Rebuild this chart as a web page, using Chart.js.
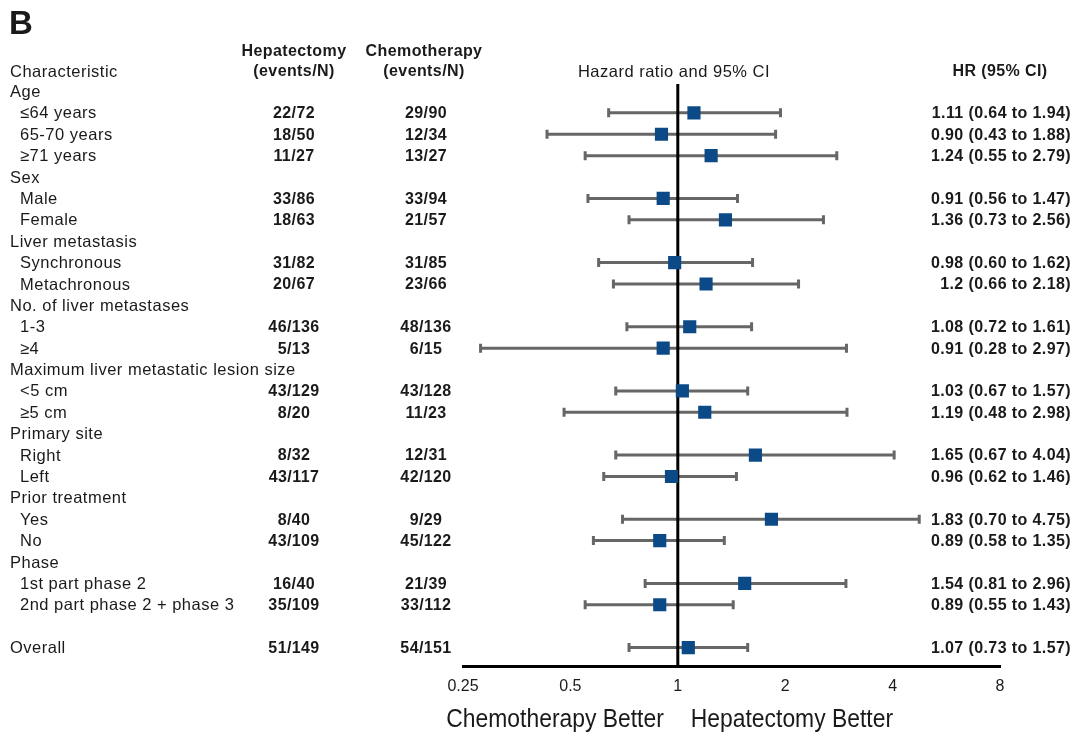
<!DOCTYPE html>
<html><head><meta charset="utf-8">
<script src="https://cdn.jsdelivr.net/npm/chart.js@4.4.1/dist/chart.umd.min.js"></script>
<style>html,body{margin:0;padding:0;background:#fff}</style>
</head><body>
<canvas id="c" width="1080" height="750"></canvas>
<script>
// ---- data ----
const rowLabels = ['Age','≤64 years','65-70 years','≥71 years','Sex','Male','Female','Liver metastasis','Synchronous','Metachronous','No. of liver metastases','1-3','≥4','Maximum liver metastatic lesion size','<5 cm','≥5 cm','Primary site','Right','Left','Prior treatment','Yes','No','Phase','1st part phase 2','2nd part phase 2 + phase 3','','Overall'];
const rowIndent = [0,1,1,1,0,1,1,0,1,1,0,1,1,0,1,1,0,1,1,0,1,1,0,1,1,0,0];
const hepatectomy = ['','22/72','18/50','11/27','','33/86','18/63','','31/82','20/67','','46/136','5/13','','43/129','8/20','','8/32','43/117','','8/40','43/109','','16/40','35/109','','51/149'];
const chemotherapy = ['','29/90','12/34','13/27','','33/94','21/57','','31/85','23/66','','48/136','6/15','','43/128','11/23','','12/31','42/120','','9/29','45/122','','21/39','33/112','','54/151'];
const hr =    [null,1.11,0.90,1.24,null,0.91,1.36,null,0.98,1.2, null,1.08,0.91,null,1.03,1.19,null,1.65,0.96,null,1.83,0.89,null,1.54,0.89,null,1.07];
const ciLow = [null,0.64,0.43,0.55,null,0.56,0.73,null,0.60,0.66,null,0.72,0.28,null,0.67,0.48,null,0.67,0.62,null,0.70,0.58,null,0.81,0.55,null,0.73];
const ciHigh= [null,1.94,1.88,2.79,null,1.47,2.56,null,1.62,2.18,null,1.61,2.97,null,1.57,2.98,null,4.04,1.46,null,4.75,1.35,null,2.96,1.43,null,1.57];
const hrText = ['','1.11 (0.64 to 1.94)','0.90 (0.43 to 1.88)','1.24 (0.55 to 2.79)','','0.91 (0.56 to 1.47)','1.36 (0.73 to 2.56)','','0.98 (0.60 to 1.62)','1.2 (0.66 to 2.18)','','1.08 (0.72 to 1.61)','0.91 (0.28 to 2.97)','','1.03 (0.67 to 1.57)','1.19 (0.48 to 2.98)','','1.65 (0.67 to 4.04)','0.96 (0.62 to 1.46)','','1.83 (0.70 to 4.75)','0.89 (0.58 to 1.35)','','1.54 (0.81 to 2.96)','0.89 (0.55 to 1.43)','','1.07 (0.73 to 1.57)'];
const xTicks = [0.25,0.5,1,2,4,8];

// ---- build datasets ----
const GRAY = '#666666', NAVY = '#0b4a86';
const datasets = [];
hr.forEach((v,i)=>{
  if (v === null) return;
  datasets.push({
    type:'line', order:2,
    data:[{x:ciLow[i],y:i},{x:ciHigh[i],y:i}],
    borderColor:GRAY, borderWidth:3,
    pointStyle:'line', pointRotation:90, pointRadius:4.5,
    pointBorderColor:GRAY, pointBorderWidth:3, pointBackgroundColor:GRAY,
    pointHoverRadius:4.5
  });
});
const markerData = [];
hr.forEach((v,i)=>{ if (v !== null) markerData.push({x:v,y:i}); });
const markerIndex = datasets.length;
datasets.push({
  type:'scatter', order:1, data:markerData,
  pointStyle:'rect', pointRadius:9.3, pointHoverRadius:9.3,
  backgroundColor:NAVY, borderColor:NAVY, borderWidth:0
});

const FONT = '"Liberation Sans", Arial, sans-serif';
const INK = '#1a1a1a';

const zeroLine = {
  id:'zeroLine',
  beforeDatasetDraw(chart,args){
    if (args.index !== markerIndex) return;
    const ctx = chart.ctx, xs = chart.scales.x, a = chart.chartArea;
    const px = xs.getPixelForValue(1);
    ctx.save();
    ctx.strokeStyle = '#000'; ctx.lineWidth = 3;
    ctx.beginPath(); ctx.moveTo(px, a.top); ctx.lineTo(px, a.bottom); ctx.stroke();
    ctx.restore();
  }
};

function spacing(ctx, v){ try { ctx.letterSpacing = v; } catch(e){} }

const tableText = {
  id:'tableText',
  afterDraw(chart){
    const ctx = chart.ctx, ys = chart.scales.y, xs = chart.scales.x;
    ctx.save();
    ctx.fillStyle = INK;
    ctx.textBaseline = 'middle';
    spacing(ctx,'0px');
    ctx.textAlign = 'left';
    ctx.font = 'bold 33px ' + FONT;
    ctx.fillText('B', 9, 25);

    // headers
    spacing(ctx,'0.4px');
    ctx.font = 'bold 16px ' + FONT;
    ctx.textAlign = 'center';
    ctx.fillText('Hepatectomy', 294, 52);
    ctx.fillText('(events/N)', 294, 72);
    ctx.fillText('Chemotherapy', 424, 52);
    ctx.fillText('(events/N)', 424, 72);
    ctx.fillText('HR (95% CI)', 1000, 72);
    spacing(ctx,'0.5px');
    ctx.font = '16.5px ' + FONT;
    ctx.fillText('Hazard ratio and 95% CI', 674, 72);
    ctx.textAlign = 'left';
    ctx.fillText('Characteristic', 10, 72);

    rowLabels.forEach((lab,i)=>{
      const y = ys.getPixelForValue(i) + 1;
      spacing(ctx,'0.5px');
      ctx.font = '16.5px ' + FONT;
      ctx.textAlign = 'left';
      if (lab) ctx.fillText(lab, rowIndent[i] ? 20 : 10, y);
      spacing(ctx,'0.4px');
      ctx.font = 'bold 16px ' + FONT;
      ctx.textAlign = 'center';
      if (hepatectomy[i]) ctx.fillText(hepatectomy[i], 294, y);
      if (chemotherapy[i]) ctx.fillText(chemotherapy[i], 426, y);
      ctx.textAlign = 'right';
      if (hrText[i]) ctx.fillText(hrText[i], 1071, y);
    });

    // axis direction labels (condensed)
    spacing(ctx,'0px');
    ctx.font = '26px ' + FONT;
    const px1 = xs.getPixelForValue(1);
    const sx = 0.88;
    ctx.save();
    ctx.scale(sx, 1);
    ctx.textAlign = 'right';
    ctx.fillText('Chemotherapy Better', (px1 - 14) / sx, 720);
    ctx.textAlign = 'left';
    ctx.fillText('Hepatectomy Better', (px1 + 13) / sx, 720);
    ctx.restore();
    ctx.restore();
  }
};

new Chart(document.getElementById('c'), {
  type:'scatter',
  data:{ datasets },
  options:{
    responsive:false, animation:false, devicePixelRatio:1,
    layout:{ padding:{ left:463, right:80, top:84, bottom:44 } },
    plugins:{ legend:{display:false}, tooltip:{enabled:false} },
    scales:{
      x:{
        type:'logarithmic', min:0.25, max:8,
        afterBuildTicks(scale){ scale.ticks = xTicks.map(v=>({value:v})); },
        ticks:{ autoSkip:false, maxRotation:0, padding:10, color:INK,
          font:{ family:'"Liberation Sans", Arial, sans-serif', size:16 },
          callback:(v)=>String(v) },
        grid:{ display:false, drawTicks:false },
        border:{ display:true, color:'#000', width:3 }
      },
      y:{
        type:'linear', reverse:true, min:-0.35, max:26.9, display:false
      }
    }
  },
  plugins:[zeroLine, tableText]
});
</script>
</body></html>
